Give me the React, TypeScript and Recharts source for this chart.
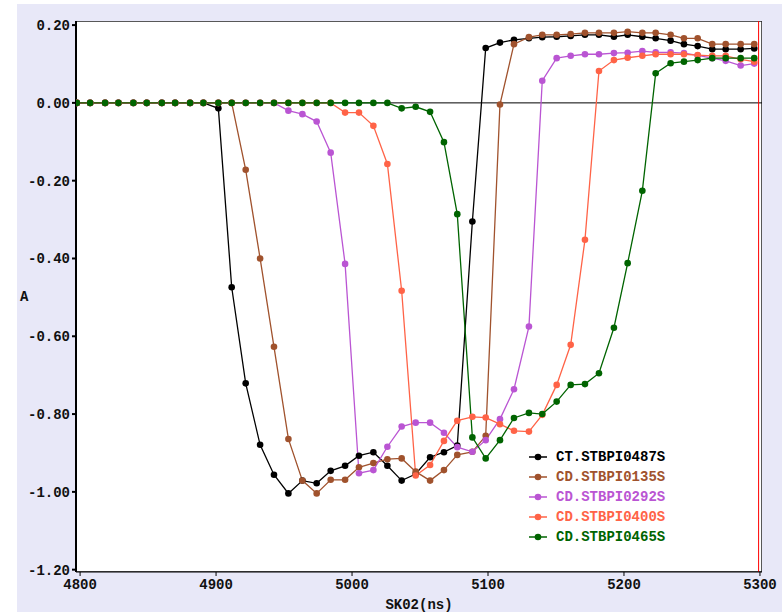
import { LineChart, Line, XAxis, YAxis, CartesianGrid, Legend, ReferenceLine, ReferenceArea } from 'recharts';

// sample times (ns), shared by every series
const times = [
  4797.6, 4807.4, 4818.4, 4828.2, 4839.2, 4849.0, 4860.1, 4869.9, 4880.9, 4890.7,
  4901.7, 4911.5, 4921.8, 4932.4, 4942.6, 4953.2, 4963.5, 4974.0, 4984.3, 4994.9,
  5005.1, 5015.7, 5026.0, 5036.5, 5046.8, 5057.4, 5067.6, 5077.4, 5088.5, 5098.3,
  5108.8, 5119.1, 5130.1, 5139.9, 5150.5, 5160.8, 5171.3, 5181.6, 5192.6, 5202.7,
  5213.5, 5223.3, 5234.3, 5244.1, 5254.2, 5264.9, 5274.8, 5285.8, 5295.8,
];

const ct0487 = [
  0, 0, 0, 0, 0, 0, 0, 0, 0, 0,
  -0.014, -0.474, -0.721, -0.879, -0.956, -1.004, -0.971, -0.978, -0.946, -0.933,
  -0.907, -0.898, -0.933, -0.971, -0.954, -0.911, -0.898, -0.881, -0.305, 0.141,
  0.155, 0.162, 0.166, 0.169, 0.170, 0.172, 0.175, 0.175, 0.170, 0.175,
  0.170, 0.166, 0.160, 0.151, 0.146, 0.138, 0.138, 0.138, 0.140,
];

const cd0135 = [
  0, 0, 0, 0, 0, 0, 0, 0, 0, 0,
  0, 0, -0.172, -0.400, -0.627, -0.864, -0.971, -1.004, -0.969, -0.969,
  -0.937, -0.926, -0.916, -0.914, -0.948, -0.971, -0.944, -0.905, -0.897, -0.856,
  -0.004, 0.151, 0.169, 0.175, 0.175, 0.177, 0.180, 0.180, 0.180, 0.183,
  0.180, 0.180, 0.175, 0.166, 0.166, 0.151, 0.151, 0.151, 0.151,
];

const cd0292 = [
  0, 0, 0, 0, 0, 0, 0, 0, 0, 0,
  0, 0, 0, 0, 0, -0.020, -0.029, -0.048, -0.128, -0.414,
  -0.952, -0.944, -0.884, -0.832, -0.822, -0.822, -0.848, -0.885, -0.897, -0.867,
  -0.813, -0.736, -0.575, 0.057, 0.115, 0.121, 0.125, 0.125, 0.128, 0.129,
  0.133, 0.130, 0.130, 0.128, 0.122, 0.115, 0.108, 0.096, 0.101,
];

const cd0400 = [
  0, 0, 0, 0, 0, 0, 0, 0, 0, 0,
  0, 0, 0, 0, 0, 0, 0, 0, 0, -0.025,
  -0.025, -0.059, -0.157, -0.483, -0.958, -0.931, -0.869, -0.817, -0.807, -0.809,
  -0.826, -0.843, -0.845, -0.802, -0.725, -0.622, -0.352, 0.082, 0.110, 0.116,
  0.121, 0.125, 0.125, 0.125, 0.123, 0.121, 0.121, 0.112, 0.106,
];

const cd0465 = [
  0, 0, 0, 0, 0, 0, 0, 0, 0, 0,
  0, 0, 0, 0, 0, 0, 0, 0, 0, 0,
  0, 0, 0, -0.014, -0.010, -0.023, -0.101, -0.286, -0.860, -0.914,
  -0.867, -0.810, -0.797, -0.800, -0.768, -0.725, -0.723, -0.695, -0.578, -0.412,
  -0.226, 0.076, 0.102, 0.106, 0.110, 0.115, 0.115, 0.115, 0.115,
];

const seriesNames = ['CT.STBPI0487S', 'CD.STBPI0135S', 'CD.STBPI0292S', 'CD.STBPI0400S', 'CD.STBPI0465S'];
const seriesColors = ['#000000', '#a0522d', '#ba55d3', '#ff6347', '#006400'];
const seriesValues = [ct0487, cd0135, cd0292, cd0400, cd0465];

const xTicks = [4800, 4900, 5000, 5100, 5200, 5300];
const yTicks = [0.2, 0, -0.2, -0.4, -0.6, -0.8, -1.0, -1.2];

const data = times.map((t, i) => {
  const row: Record<string, number> = { t };
  seriesNames.forEach((name, s) => {
    row[name] = seriesValues[s][i];
  });
  return row;
});

const FONT = '"Liberation Mono", "DejaVu Sans Mono", monospace';
const tickStyle = { fontFamily: FONT, fontWeight: 'bold', fontSize: 14, fill: '#111' };

const LegendBox = () => (
  <div style={{ background: '#fff', padding: '6px 4px 10px 2px', fontFamily: FONT, fontWeight: 'bold', fontSize: 14 }}>
    {seriesNames.map((name, i) => (
      <div key={name} style={{ display: 'flex', alignItems: 'center', height: 20 }}>
        <svg width={18} height={10} style={{ marginRight: 9 }}>
          <line x1={0} y1={5} x2={18} y2={5} stroke={seriesColors[i]} strokeWidth={1.5} />
          <circle cx={9} cy={5} r={3.3} fill={seriesColors[i]} />
        </svg>
        <span style={{ color: seriesColors[i] }}>{name}</span>
      </div>
    ))}
  </div>
);

const App = () => {
  return (
    <div style={{ position: 'absolute', left: 17, top: 4, width: 765, height: 608, background: '#e8e8f8' }}>
      <LineChart
        width={765}
        height={608}
        data={data}
        margin={{ top: 17, right: 20, left: 0, bottom: 0 }}
      >
        <ReferenceArea x1={4797} x2={5301.5} y1={-1.206} y2={0.2105} fill="#ffffff" fillOpacity={1} stroke="none" ifOverflow="hidden" />
        <CartesianGrid stroke="#e4e4e4" strokeWidth={1.5} horizontalValues={yTicks} verticalValues={xTicks} />
        <XAxis
          dataKey="t"
          type="number"
          domain={[4797, 5301.5]}
          ticks={xTicks}
          allowDataOverflow
          height={40}
          tickSize={4}
          tickMargin={3}
          tick={tickStyle}
          stroke="#000"
          label={{ value: 'SK02(ns)', position: 'insideBottom', offset: 3, style: { fontFamily: FONT, fontWeight: 'bold', fontSize: 14, fill: '#111' } }}
        />
        <YAxis
          type="number"
          domain={[-1.206, 0.2105]}
          ticks={yTicks}
          allowDataOverflow
          width={59}
          tickSize={4}
          tickMargin={2}
          tick={tickStyle}
          tickFormatter={(v: number) => (Math.abs(v) < 1e-9 ? 0 : v).toFixed(2)}
          stroke="#000"
          strokeWidth={2}
          label={{ value: 'A', position: 'insideLeft', offset: 3, style: { fontFamily: FONT, fontWeight: 'bold', fontSize: 14, fill: '#111' } }}
        />
        <ReferenceArea x1={4797} x2={5301.5} y1={-1.206} y2={0.2105} fill="none" stroke="#222" strokeWidth={1.5} ifOverflow="hidden" />
        <ReferenceLine y={0} stroke="#000" strokeWidth={1} />
        <ReferenceLine x={5299} stroke="#ff0000" strokeWidth={1} />
        <Legend
          layout="vertical"
          align="center"
          verticalAlign="middle"
          wrapperStyle={{ left: 510, top: 437, width: 162 }}
          content={() => <LegendBox />}
        />
        {seriesNames.map((name, i) => (
          <Line
            key={name}
            type="linear"
            dataKey={name}
            stroke={seriesColors[i]}
            strokeWidth={1.3}
            dot={{ r: 3.3, fill: seriesColors[i], stroke: seriesColors[i], strokeWidth: 0 }}
            activeDot={false}
            isAnimationActive={false}
          />
        ))}
      </LineChart>
    </div>
  );
};

export default App;
